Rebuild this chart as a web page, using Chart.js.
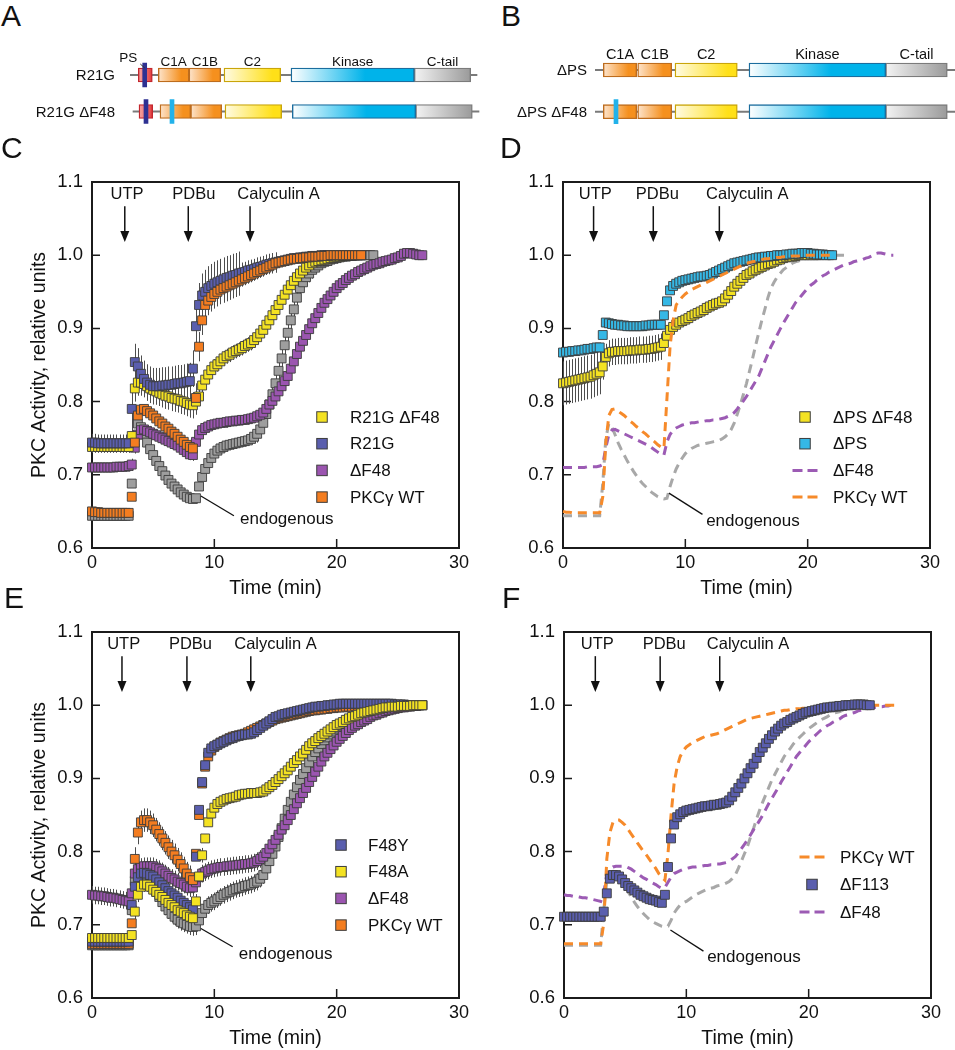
<!DOCTYPE html>
<html>
<head>
<meta charset="utf-8">
<title>PKC activity time courses</title>
<script src="https://cdn.jsdelivr.net/npm/chart.js@4.4.1/dist/chart.umd.min.js"></script>
<style>
  body { margin: 0; background: #fff; }
  #page { position: relative; width: 955px; height: 1050px; overflow: hidden; font-family: "Liberation Sans", Arial, sans-serif; }
  canvas { position: absolute; }
  .letter { position: absolute; font-size: 30px; line-height: 30px; color: #111; z-index: 2; }
</style>
</head>
<body>
<div id="page">
  <canvas id="mapA" width="480" height="100" style="left:0;top:40px"></canvas>
  <canvas id="mapB" width="475" height="100" style="left:480px;top:40px"></canvas>
  <canvas id="panelC" width="480" height="450" style="left:0;top:150px"></canvas>
  <canvas id="panelD" width="480" height="450" style="left:471px;top:150px"></canvas>
  <canvas id="panelE" width="480" height="450" style="left:0;top:600px"></canvas>
  <canvas id="panelF" width="480" height="450" style="left:472px;top:600px"></canvas>
  <div class="letter" style="left:1px;top:1px">A</div>
  <div class="letter" style="left:501px;top:1px">B</div>
  <div class="letter" style="left:1px;top:133px">C</div>
  <div class="letter" style="left:500px;top:133px">D</div>
  <div class="letter" style="left:4px;top:583px">E</div>
  <div class="letter" style="left:502px;top:583px">F</div>
</div>
<script>
// readings every 15 s, first one at t = 0
const TIME_STEP = 0.25;
const STIM_NAMES = ['UTP', 'PDBu', 'Calyculin A'];

// ---- panel C ----
const C_WT = [
  0.650, 0.649, 0.649, 0.648,
  0.648, 0.648, 0.648, 0.648,
  0.648, 0.648, 0.648, 0.648,
  0.648, 0.670, 0.744, 0.781,
  0.789, 0.790, 0.787, 0.784,
  0.781, 0.777, 0.773, 0.770,
  0.766, 0.763, 0.759, 0.756,
  0.752, 0.748, 0.745, 0.741,
  0.738, 0.736, 0.805, 0.875,
  0.911, 0.932, 0.938, 0.943,
  0.947, 0.950, 0.953, 0.955,
  0.957, 0.959, 0.961, 0.963,
  0.965, 0.967, 0.969, 0.971,
  0.973, 0.975, 0.977, 0.979,
  0.981, 0.983, 0.985, 0.987,
  0.989, 0.990, 0.991, 0.992,
  0.993, 0.994, 0.995, 0.995,
  0.996, 0.996, 0.997, 0.997,
  0.998, 0.998, 0.998, 0.999,
  0.999, 0.999, 1.000, 1.000,
  1.000, 1.000, 1.000, 1.000,
  1.000, 1.000, 1.000, 1.000,
  1.000
];
const C_R21G = [
  0.744, 0.744, 0.743, 0.743,
  0.743, 0.743, 0.743, 0.743,
  0.743, 0.743, 0.743, 0.743,
  0.743, 0.790, 0.854, 0.848,
  0.838, 0.831, 0.826, 0.823,
  0.821, 0.821, 0.821, 0.822,
  0.822, 0.823, 0.823, 0.824,
  0.825, 0.825, 0.826, 0.827,
  0.828, 0.845, 0.903, 0.932,
  0.945, 0.950, 0.955, 0.958,
  0.961, 0.963, 0.965, 0.967,
  0.969, 0.970, 0.972, 0.973,
  0.975, 0.976, 0.977, 0.979,
  0.980, 0.981, 0.983, 0.984,
  0.985, 0.987, 0.988, 0.989,
  0.990, 0.991, 0.992, 0.993,
  0.994, 0.995, 0.996, 0.996,
  0.997, 0.997, 0.998, 0.998,
  0.999, 0.999, 0.999, 1.000,
  1.000, 1.000, 1.000, 1.000,
  1.000, 1.000, 1.000, 1.000,
  1.000, 1.000, 1.000, 1.000,
  1.000
];
const C_R21G_DF48 = [
  0.738, 0.738, 0.738, 0.738,
  0.738, 0.738, 0.738, 0.738,
  0.738, 0.738, 0.738, 0.738,
  0.738, 0.753, 0.818, 0.826,
  0.826, 0.824, 0.821, 0.818,
  0.816, 0.814, 0.812, 0.810,
  0.808, 0.807, 0.805, 0.804,
  0.803, 0.801, 0.800, 0.798,
  0.796, 0.795, 0.800, 0.807,
  0.822, 0.830, 0.837, 0.843,
  0.848, 0.851, 0.855, 0.859,
  0.862, 0.864, 0.867, 0.869,
  0.871, 0.873, 0.876, 0.878,
  0.880, 0.884, 0.888, 0.893,
  0.898, 0.905, 0.911, 0.918,
  0.925, 0.932, 0.939, 0.946,
  0.953, 0.959, 0.965, 0.970,
  0.975, 0.979, 0.983, 0.986,
  0.989, 0.991, 0.992, 0.993,
  0.994, 0.995, 0.996, 0.997,
  0.998, 0.998, 0.999, 0.999,
  1.000, 1.000, 1.000, 1.000,
  1.000
];
const C_DF48 = [
  0.710, 0.710, 0.710, 0.710,
  0.710, 0.710, 0.710, 0.710,
  0.711, 0.711, 0.711, 0.711,
  0.712, 0.714, 0.737, 0.755,
  0.761, 0.762, 0.760, 0.758,
  0.756, 0.754, 0.752, 0.750,
  0.748, 0.746, 0.744, 0.742,
  0.740, 0.737, 0.734, 0.731,
  0.728, 0.727, 0.745, 0.755,
  0.761, 0.764, 0.766, 0.768,
  0.769, 0.770, 0.771, 0.771,
  0.772, 0.773, 0.773, 0.774,
  0.774, 0.775, 0.775, 0.776,
  0.777, 0.778, 0.780, 0.782,
  0.785, 0.790, 0.796, 0.801,
  0.807, 0.814, 0.821, 0.828,
  0.835, 0.845, 0.855, 0.865,
  0.875, 0.883, 0.891, 0.899,
  0.907, 0.914, 0.921, 0.928,
  0.935, 0.940, 0.945, 0.950,
  0.955, 0.959, 0.962, 0.966,
  0.969, 0.972, 0.974, 0.977,
  0.979, 0.981, 0.983, 0.985,
  0.987, 0.988, 0.989, 0.991,
  0.992, 0.993, 0.994, 0.996,
  0.997, 0.999, 1.002, 1.003,
  1.003, 1.002, 1.001, 1.000,
  1.000
];
const C_ENDO = [
  0.644, 0.644, 0.644, 0.644,
  0.644, 0.644, 0.644, 0.644,
  0.644, 0.644, 0.644, 0.644,
  0.644, 0.688, 0.750, 0.770,
  0.765, 0.755, 0.744, 0.735,
  0.727, 0.719, 0.712, 0.705,
  0.699, 0.693, 0.688, 0.684,
  0.680, 0.676, 0.673, 0.670,
  0.668, 0.667, 0.668, 0.684,
  0.697, 0.708, 0.716, 0.723,
  0.729, 0.733, 0.736, 0.738,
  0.740, 0.741, 0.742, 0.743,
  0.744, 0.745, 0.746, 0.747,
  0.749, 0.752, 0.756, 0.762,
  0.771, 0.783, 0.796, 0.810,
  0.825, 0.842, 0.859, 0.877,
  0.894, 0.911, 0.926, 0.942,
  0.955, 0.963, 0.970, 0.975,
  0.980, 0.983, 0.986, 0.989,
  0.991, 0.992, 0.994, 0.995,
  0.996, 0.997, 0.998, 0.998,
  0.999, 0.999, 1.000, 1.000,
  1.000, 1.000, 1.000, 1.000,
  1.000
];

// ---- panel D ----
const D_DPS = [
  0.867, 0.868, 0.868, 0.869,
  0.869, 0.870, 0.870, 0.871,
  0.872, 0.872, 0.873, 0.874,
  0.874, 0.891, 0.908, 0.907,
  0.906, 0.905, 0.905, 0.904,
  0.904, 0.903, 0.903, 0.903,
  0.903, 0.903, 0.903, 0.904,
  0.904, 0.905, 0.905, 0.905,
  0.905, 0.918, 0.937, 0.952,
  0.958, 0.961, 0.963, 0.965,
  0.966, 0.967, 0.968, 0.969,
  0.970, 0.971, 0.971, 0.972,
  0.973, 0.975, 0.977, 0.979,
  0.981, 0.983, 0.985, 0.987,
  0.989, 0.990, 0.991, 0.992,
  0.993, 0.994, 0.995, 0.996,
  0.997, 0.997, 0.998, 0.998,
  0.999, 0.999, 1.000, 1.000,
  1.000, 1.001, 1.001, 1.002,
  1.002, 1.002, 1.003, 1.003,
  1.003, 1.002, 1.002, 1.001,
  1.001, 1.001, 1.000, 1.000,
  1.000
];
const D_DPS_DF48 = [
  0.825, 0.826, 0.827, 0.828,
  0.829, 0.830, 0.831, 0.832,
  0.833, 0.834, 0.836, 0.838,
  0.840, 0.848, 0.861, 0.866,
  0.868, 0.868, 0.869, 0.869,
  0.869, 0.869, 0.870, 0.870,
  0.870, 0.871, 0.871, 0.871,
  0.872, 0.872, 0.873, 0.874,
  0.875, 0.880, 0.890, 0.898,
  0.902, 0.905, 0.908, 0.910,
  0.912, 0.914, 0.917, 0.919,
  0.921, 0.923, 0.925, 0.928,
  0.930, 0.932, 0.934, 0.935,
  0.937, 0.941, 0.946, 0.951,
  0.957, 0.961, 0.965, 0.969,
  0.973, 0.975, 0.978, 0.980,
  0.982, 0.984, 0.986, 0.988,
  0.989, 0.991, 0.993, 0.994,
  0.996, 0.997, 0.998, 0.998,
  0.999, 1.000, 1.000, 1.000,
  1.000, 1.000, 1.000, 1.000,
  1.000
];

// ---- panel E ----
const E_WT = [
  0.674, 0.674, 0.674, 0.674,
  0.674, 0.674, 0.674, 0.674,
  0.674, 0.674, 0.674, 0.674,
  0.674, 0.702, 0.790, 0.826,
  0.840, 0.843, 0.843, 0.840,
  0.836, 0.830, 0.824, 0.818,
  0.812, 0.806, 0.800, 0.795,
  0.789, 0.783, 0.777, 0.770,
  0.765, 0.761, 0.797, 0.850,
  0.893, 0.916, 0.930, 0.938,
  0.943, 0.946, 0.949, 0.951,
  0.953, 0.955, 0.957, 0.958,
  0.959, 0.960, 0.961, 0.963,
  0.965, 0.967, 0.969, 0.971,
  0.973, 0.975, 0.977, 0.979,
  0.981, 0.982, 0.983, 0.984,
  0.985, 0.986, 0.987, 0.988,
  0.989, 0.990, 0.991, 0.992,
  0.993, 0.993, 0.994, 0.994,
  0.995, 0.995, 0.996, 0.996,
  0.997, 0.997, 0.997, 0.998,
  0.998, 0.998, 0.999, 0.999,
  0.999, 0.999, 1.000, 1.000,
  1.000, 1.000, 1.000, 1.000,
  1.000, 1.000, 1.000, 1.000,
  1.000, 1.000, 1.000, 1.000,
  1.000, 1.000, 1.000, 1.000,
  1.000
];
const E_F48Y = [
  0.677, 0.677, 0.677, 0.677,
  0.677, 0.677, 0.677, 0.677,
  0.677, 0.677, 0.677, 0.677,
  0.677, 0.727, 0.752, 0.765,
  0.770, 0.771, 0.770, 0.768,
  0.766, 0.762, 0.758, 0.754,
  0.750, 0.746, 0.743, 0.740,
  0.737, 0.733, 0.730, 0.727,
  0.724, 0.721, 0.793, 0.857,
  0.895, 0.918, 0.935, 0.941,
  0.944, 0.946, 0.948, 0.950,
  0.952, 0.954, 0.955, 0.957,
  0.958, 0.959, 0.960, 0.960,
  0.961, 0.963, 0.966, 0.969,
  0.972, 0.975, 0.978, 0.981,
  0.984, 0.985, 0.987, 0.988,
  0.989, 0.990, 0.991, 0.992,
  0.993, 0.994, 0.995, 0.996,
  0.997, 0.998, 0.998, 0.999,
  0.999, 1.000, 1.000, 1.001,
  1.001, 1.002, 1.002, 1.002,
  1.002, 1.002, 1.002, 1.002,
  1.002, 1.002, 1.002, 1.002,
  1.002, 1.002, 1.002, 1.002,
  1.002, 1.002, 1.002, 1.001,
  1.001, 1.001, 1.001, 1.000,
  1.000, 1.000, 1.000, 1.000,
  1.000
];
const E_F48A = [
  0.682, 0.682, 0.682, 0.682,
  0.682, 0.682, 0.682, 0.682,
  0.682, 0.682, 0.682, 0.682,
  0.682, 0.686, 0.718, 0.741,
  0.752, 0.755, 0.755, 0.752,
  0.748, 0.745, 0.741, 0.738,
  0.734, 0.730, 0.727, 0.724,
  0.720, 0.718, 0.716, 0.713,
  0.711, 0.709, 0.732, 0.766,
  0.795, 0.818, 0.840, 0.852,
  0.860, 0.865, 0.868, 0.870,
  0.872, 0.873, 0.874, 0.875,
  0.877, 0.878, 0.879, 0.879,
  0.880, 0.880, 0.880, 0.881,
  0.882, 0.885, 0.888, 0.891,
  0.895, 0.899, 0.903, 0.907,
  0.911, 0.916, 0.921, 0.925,
  0.930, 0.934, 0.939, 0.944,
  0.948, 0.951, 0.955, 0.958,
  0.961, 0.964, 0.967, 0.970,
  0.973, 0.975, 0.977, 0.980,
  0.982, 0.984, 0.985, 0.987,
  0.989, 0.990, 0.991, 0.992,
  0.993, 0.994, 0.995, 0.996,
  0.997, 0.997, 0.998, 0.998,
  0.998, 0.999, 0.999, 0.999,
  0.999, 1.000, 1.000, 1.000,
  1.000
];
const E_DF48 = [
  0.741, 0.740, 0.740, 0.739,
  0.739, 0.738, 0.737, 0.737,
  0.736, 0.735, 0.734, 0.733,
  0.732, 0.743, 0.770, 0.776,
  0.779, 0.780, 0.780, 0.780,
  0.780, 0.778, 0.776, 0.773,
  0.770, 0.767, 0.764, 0.762,
  0.759, 0.757, 0.755, 0.752,
  0.750, 0.751, 0.758, 0.765,
  0.770, 0.772, 0.774, 0.776,
  0.777, 0.778, 0.779, 0.779,
  0.780, 0.780, 0.781, 0.781,
  0.782, 0.782, 0.783, 0.783,
  0.784, 0.785, 0.787, 0.790,
  0.793, 0.798, 0.804, 0.810,
  0.816, 0.823, 0.830, 0.836,
  0.843, 0.850, 0.858, 0.866,
  0.873, 0.880, 0.887, 0.895,
  0.902, 0.909, 0.916, 0.923,
  0.930, 0.935, 0.940, 0.945,
  0.950, 0.954, 0.958, 0.962,
  0.966, 0.969, 0.972, 0.974,
  0.977, 0.979, 0.981, 0.984,
  0.986, 0.987, 0.989, 0.990,
  0.992, 0.993, 0.994, 0.995,
  0.996, 0.997, 0.997, 0.998,
  0.998, 0.999, 0.999, 1.000,
  1.000
];
const E_ENDO = [
  0.672, 0.672, 0.672, 0.672,
  0.672, 0.672, 0.672, 0.672,
  0.672, 0.672, 0.672, 0.672,
  0.672, 0.720, 0.760, 0.772,
  0.773, 0.769, 0.763, 0.757,
  0.752, 0.745, 0.738, 0.731,
  0.725, 0.720, 0.715, 0.711,
  0.707, 0.704, 0.702, 0.700,
  0.698, 0.697, 0.698, 0.706,
  0.716, 0.722, 0.727, 0.730,
  0.732, 0.735, 0.738, 0.741,
  0.743, 0.745, 0.747, 0.749,
  0.750, 0.751, 0.753, 0.754,
  0.755, 0.757, 0.759, 0.763,
  0.768, 0.777, 0.787, 0.797,
  0.807, 0.820, 0.832, 0.845,
  0.857, 0.868, 0.878, 0.888,
  0.898, 0.906, 0.914, 0.922,
  0.930, 0.936, 0.941, 0.947,
  0.952, 0.956, 0.960, 0.964,
  0.968, 0.971, 0.974, 0.977,
  0.980, 0.982, 0.984, 0.987,
  0.989, 0.990, 0.991, 0.993,
  0.994, 0.995, 0.996, 0.997,
  0.998, 0.998, 0.999, 1.000,
  1.000
];

// ---- panel F ----
const F_DF113 = [
  0.711, 0.711, 0.711, 0.711,
  0.711, 0.711, 0.711, 0.711,
  0.711, 0.711, 0.711, 0.711,
  0.711, 0.718, 0.743, 0.763,
  0.768, 0.768, 0.766, 0.762,
  0.757, 0.753, 0.750, 0.747,
  0.744, 0.741, 0.739, 0.737,
  0.735, 0.734, 0.733, 0.731,
  0.730, 0.741, 0.779, 0.818,
  0.837, 0.847, 0.851, 0.854,
  0.856, 0.857, 0.858, 0.859,
  0.860, 0.861, 0.862, 0.862,
  0.863, 0.864, 0.864, 0.865,
  0.866, 0.867, 0.870, 0.875,
  0.881, 0.887, 0.893, 0.900,
  0.907, 0.914, 0.920, 0.928,
  0.936, 0.942, 0.948, 0.954,
  0.959, 0.964, 0.968, 0.972,
  0.975, 0.977, 0.980, 0.982,
  0.984, 0.986, 0.988, 0.990,
  0.991, 0.992, 0.993, 0.994,
  0.995, 0.996, 0.997, 0.997,
  0.998, 0.998, 0.999, 0.999,
  1.000, 1.000, 1.000, 1.001,
  1.001, 1.001, 1.001, 1.000,
  1.000
];

// error bars: [from t, to t, +/- value]
const C_R21G_ERR = [[0, 3, 0.012], [3.25, 8.25, 0.025], [8.5, 12, 0.03], [12.25, 15, 0.014]];
const C_R21G_DF48_ERR = [[0, 3, 0.008], [3.25, 8.5, 0.018], [8.75, 14, 0.01]];
const C_WT_ERR = [[8.5, 12, 0.02], [12.25, 15, 0.01]];
const C_DF48_ERR = [[3.25, 9, 0.008]];
const C_ENDO_ERR = [[13.5, 18, 0.012]];
const D_DPS_DF48_ERR = [[0, 3, 0.03], [3.25, 8, 0.018], [8.25, 10, 0.008]];
const E_DF48_ERR = [[0, 16, 0.012]];
const E_WT_ERR = [[3.5, 8, 0.016]];
const E_ENDO_ERR = [[3.5, 18, 0.012]];
const E_F48A_ERR = [[3.5, 9, 0.01]];

// ---- domain maps ----
const A_ROWS = ['R21G', 'R21G ΔF48'];
const A_BACKBONE = [[0, 347], [3, 349]];
const A_PS = [[8.3, 22.3], [9, 22.7]];
const A_C1A = [[28.3, 59], [30, 60.7]];
const A_C1B = [[59, 90.7], [60.7, 91.7]];
const A_C2 = [[94, 150.7], [95, 151.7]];
const A_KINASE = [[161, 284.3], [162.3, 285.7]];
const A_CTAIL = [[284.3, 340.7], [285.7, 342.3]];
const A_R21G_MARK = [[12.7, 16.7], [14, 18]];
const A_F48_MARK = [null, [40, 44]];

const B_ROWS = ['ΔPS', 'ΔPS ΔF48'];
const B_BACKBONE = [[0, 362], [0, 362]];
const B_C1A = [[8.3, 41.7], [8.3, 41.7]];
const B_C1B = [[42.7, 76.7], [42.7, 76.7]];
const B_C2 = [[80, 142.3], [80, 142.3]];
const B_KINASE = [[154, 290.7], [154, 290.7]];
const B_CTAIL = [[290.7, 352.3], [290.7, 352.3]];
const B_F48_MARK = [null, [19, 23]];

const INK = '#111';
const FAMILY = '"Liberation Sans", Arial, Helvetica, sans-serif';
const font = (size) => size + 'px ' + FAMILY;
Chart.defaults.font.family = FAMILY;
Chart.defaults.color = INK;

const COLORS = {
  yellow: '#f4e222', blue: '#5a5eae', purple: '#9b55b0', orange: '#f47d20',
  grey: '#9e9e9e', cyan: '#35b8e6',
  dPurple: '#9c5bb4', dOrange: '#f68a2a', dGrey: '#a8a8a8'
};

const points = (vals) => vals.map((v, i) => ({ x: i * TIME_STEP, y: v }));

function squares(label, vals, color, errors) {
  return {
    label, data: points(vals), showLine: false, pointStyle: 'rect',
    pointRadius: 6.3, pointBackgroundColor: color, pointBorderColor: '#3c3c3c',
    pointBorderWidth: 0.9, backgroundColor: color, borderColor: color,
    clip: false, errors: errors || null
  };
}

function dashed(label, vals, color) {
  return {
    label, data: points(vals), pointRadius: 0, borderColor: color,
    backgroundColor: color, borderWidth: 3, borderDash: [9, 6], tension: 0,
    fill: false, clip: false
  };
}

const framePlugin = {
  id: 'frame',
  beforeDatasetsDraw(chart) {
    const { ctx, chartArea: a, scales: { x, y } } = chart;
    ctx.save();
    ctx.strokeStyle = '#1b1b1b';
    ctx.lineWidth = 2;
    ctx.strokeRect(a.left, a.top, a.right - a.left, a.bottom - a.top);
    ctx.lineWidth = 1.5;
    ctx.beginPath();
    x.ticks.forEach(t => {
      if (t.value > x.min && t.value < x.max) {
        const px = x.getPixelForValue(t.value);
        ctx.moveTo(px, a.bottom); ctx.lineTo(px, a.bottom - 9);
      }
    });
    y.ticks.forEach(t => {
      if (t.value > y.min + 1e-6 && t.value < y.max - 1e-6) {
        const py = y.getPixelForValue(t.value);
        ctx.moveTo(a.left, py); ctx.lineTo(a.left + 8, py);
      }
    });
    ctx.stroke();

    // error bars go under every marker
    ctx.strokeStyle = '#4d4d4d';
    ctx.lineWidth = 1;
    ctx.beginPath();
    chart.data.datasets.forEach(ds => {
      if (!ds.errors) return;
      ds.data.forEach(p => {
        const seg = ds.errors.find(s => p.x >= s[0] - 1e-9 && p.x <= s[1] + 1e-9);
        if (!seg) return;
        const px = Math.round(x.getPixelForValue(p.x)) + 0.5;
        ctx.moveTo(px, y.getPixelForValue(p.y - seg[2]));
        ctx.lineTo(px, y.getPixelForValue(p.y + seg[2]));
      });
    });
    ctx.stroke();
    ctx.restore();
  }
};

function annotate(spec) {
  return {
    id: 'annotate',
    afterDatasetsDraw(chart) {
      const { ctx, chartArea: a, scales: { x, y } } = chart;
      ctx.save();
      ctx.fillStyle = INK;
      ctx.strokeStyle = INK;

      // stimulus arrows
      ctx.font = font(16.5);
      ctx.textAlign = 'center';
      ctx.textBaseline = 'middle';
      STIM_NAMES.forEach((name, i) => {
        const ax = x.getPixelForValue(spec.stimAt[i]);
        const top = y.getPixelForValue(1.067), tip = y.getPixelForValue(1.018);
        ctx.lineWidth = 1.5;
        ctx.beginPath(); ctx.moveTo(ax, top); ctx.lineTo(ax, tip - 9); ctx.stroke();
        ctx.beginPath();
        ctx.moveTo(ax - 4.5, tip - 11); ctx.lineTo(ax + 4.5, tip - 11); ctx.lineTo(ax, tip);
        ctx.closePath(); ctx.fill();
        ctx.fillText(name, x.getPixelForValue(spec.labelAt[i]), y.getPixelForValue(1.083));
      });

      // endogenous call-out
      const n = spec.endo;
      ctx.lineWidth = 1.3;
      ctx.beginPath();
      ctx.moveTo(x.getPixelForValue(n.from[0]), y.getPixelForValue(n.from[1]));
      ctx.lineTo(x.getPixelForValue(n.to[0]), y.getPixelForValue(n.to[1]));
      ctx.stroke();
      ctx.font = font(17);
      ctx.textAlign = 'left';
      ctx.fillText('endogenous', x.getPixelForValue(n.text[0]), y.getPixelForValue(n.text[1]));

      // legend inside the frame
      const lg = spec.legend;
      lg.items.forEach((label, i) => {
        const ds = chart.data.datasets.find(d => d.label === label);
        const cx = a.left + lg.dx, cy = a.top + lg.dy + i * lg.gap;
        if (ds.showLine === false) {
          ctx.fillStyle = ds.pointBackgroundColor;
          ctx.fillRect(cx - 5.25, cy - 5.25, 10.5, 10.5);
          ctx.lineWidth = 1;
          ctx.strokeStyle = '#3c3c3c';
          ctx.strokeRect(cx - 5.25, cy - 5.25, 10.5, 10.5);
        } else {
          ctx.strokeStyle = ds.borderColor;
          ctx.lineWidth = 3;
          ctx.setLineDash([10, 5]);
          ctx.beginPath(); ctx.moveTo(cx - 12.5, cy); ctx.lineTo(cx + 12.5, cy); ctx.stroke();
          ctx.setLineDash([]);
        }
        ctx.fillStyle = INK;
        ctx.fillText(label, a.left + lg.tx, cy + 1);
      });
      ctx.restore();
    }
  };
}

function timeCourse(canvasId, sets, spec) {
  return new Chart(document.getElementById(canvasId), {
    type: 'line',
    data: { datasets: sets },
    options: {
      responsive: false,
      animation: false,
      events: [],
      layout: { padding: { top: 32, right: 21, bottom: 0, left: 0 } },
      plugins: { legend: { display: false }, tooltip: { enabled: false } },
      scales: {
        x: {
          type: 'linear', min: 0, max: 30,
          ticks: { stepSize: 10, padding: 4.5, color: INK, font: { size: 18 } },
          grid: { display: false, drawTicks: false },
          border: { display: false },
          title: { display: true, text: 'Time (min)', color: INK, font: { size: 19.5 }, padding: { top: 0, bottom: 0 } },
          afterFit: (s) => { s.height = 52; }
        },
        y: {
          type: 'linear', min: 0.6, max: 1.1,
          ticks: { stepSize: 0.1, padding: 9, color: INK, font: { size: 18.5 }, callback: (v) => v.toFixed(1) },
          grid: { display: false, drawTicks: false },
          border: { display: false },
          title: { display: !!spec.yTitle, text: 'PKC Activity, relative units', color: INK, font: { size: 19.5 }, padding: { top: 28, bottom: 0 } },
          afterFit: (s) => { s.width = 92; }
        }
      }
    },
    plugins: [framePlugin, annotate(spec)]
  });
}

// panel C
timeCourse('panelC', [
  squares('PKCγ WT', C_WT, COLORS.orange, C_WT_ERR),
  squares('R21G', C_R21G, COLORS.blue, C_R21G_ERR),
  squares('R21G ΔF48', C_R21G_DF48, COLORS.yellow, C_R21G_DF48_ERR),
  squares('ΔF48', C_DF48, COLORS.purple, C_DF48_ERR),
  squares('endogenous', C_ENDO, COLORS.grey, C_ENDO_ERR)
], {
  yTitle: true,
  stimAt: [2.68, 7.87, 12.92], labelAt: [2.87, 8.33, 15.25],
  endo: { from: [8.9, 0.671], to: [11.6, 0.644], text: [12.1, 0.639] },
  legend: { items: ['R21G ΔF48', 'R21G', 'ΔF48', 'PKCγ WT'], dx: 230, tx: 258, dy: 235, gap: 26.7 }
});

// panel D
timeCourse('panelD', [
  dashed('PKCγ WT', C_WT, COLORS.dOrange),
  squares('ΔPS', D_DPS, COLORS.cyan),
  squares('ΔPS ΔF48', D_DPS_DF48, COLORS.yellow, D_DPS_DF48_ERR),
  dashed('ΔF48', C_DF48, COLORS.dPurple),
  dashed('endogenous', C_ENDO, COLORS.dGrey)
], {
  yTitle: false,
  stimAt: [2.5, 7.38, 12.78], labelAt: [2.64, 7.71, 15.07],
  endo: { from: [8.66, 0.675], to: [11.4, 0.646], text: [11.7, 0.637] },
  legend: { items: ['ΔPS ΔF48', 'ΔPS', 'ΔF48', 'PKCγ WT'], dx: 242, tx: 270, dy: 235, gap: 26.7 }
});

// panel E
timeCourse('panelE', [
  squares('F48A', E_F48A, COLORS.yellow, E_F48A_ERR),
  squares('F48Y', E_F48Y, COLORS.blue),
  squares('PKCγ WT', E_WT, COLORS.orange, E_WT_ERR),
  squares('ΔF48', E_DF48, COLORS.purple, E_DF48_ERR),
  squares('endogenous', E_ENDO, COLORS.grey, E_ENDO_ERR)
], {
  yTitle: true,
  stimAt: [2.45, 7.76, 12.98], labelAt: [2.59, 8.05, 15.0],
  endo: { from: [8.9, 0.695], to: [11.5, 0.670], text: [12.0, 0.659] },
  legend: { items: ['F48Y', 'F48A', 'ΔF48', 'PKCγ WT'], dx: 249, tx: 276, dy: 213, gap: 26.7 }
});

// panel F
timeCourse('panelF', [
  squares('ΔF113', F_DF113, COLORS.blue),
  dashed('PKCγ WT', E_WT, COLORS.dOrange),
  dashed('ΔF48', E_DF48, COLORS.dPurple),
  dashed('endogenous', E_ENDO, COLORS.dGrey)
], {
  yTitle: false,
  stimAt: [2.56, 7.86, 12.73], labelAt: [2.72, 8.19, 15.05],
  endo: { from: [8.7, 0.693], to: [11.4, 0.664], text: [11.7, 0.655] },
  legend: { items: ['PKCγ WT', 'ΔF113', 'ΔF48'], dx: 248, tx: 276, dy: 225, gap: 27.5 }
});

// ---- domain maps (A, B) ----
function shade(light, dark, stop) {
  return (c) => {
    const chart = c.chart;
    if (!chart.chartArea || !c.raw) return dark;
    const xs = chart.scales.x;
    const g = chart.ctx.createLinearGradient(xs.getPixelForValue(c.raw[0]), 0, xs.getPixelForValue(c.raw[1]), 0);
    g.addColorStop(0, light);
    g.addColorStop(stop, dark);
    g.addColorStop(1, dark);
    return g;
  };
}

function domain(title, rows, light, dark, edge, stop) {
  return {
    title, data: rows, grouped: false, barThickness: 14, borderWidth: 1.4,
    borderColor: edge, borderSkipped: false, backgroundColor: shade(light, dark, stop), order: 2
  };
}
const backbone = (rows) => ({ data: rows, grouped: false, barThickness: 1.4, borderWidth: 0, backgroundColor: '#7a7a7a', order: 3 });
const marker = (rows, color) => ({ data: rows, grouped: false, barThickness: 24, borderWidth: 0, backgroundColor: color, order: 1 });

function domainLabels(spec) {
  return {
    id: 'domainLabels',
    afterDatasetsDraw(chart) {
      const { ctx, chartArea: a, scales: { x, y } } = chart;
      const yc = y.getPixelForValue(0);
      ctx.save();
      ctx.fillStyle = INK;
      ctx.strokeStyle = '#333';
      ctx.textBaseline = 'middle';

      // row names, right-aligned against the backbone
      ctx.font = font(15);
      ctx.textAlign = 'right';
      chart.data.labels.forEach((name, i) => {
        ctx.fillText(name, a.left - spec.labelPad, y.getPixelForValue(i) + 1);
      });

      ctx.font = font(spec.labelSize);
      chart.data.datasets.forEach(ds => {
        if (!ds.title) return;
        const r = ds.data[0];
        if (ds.title === 'PS') {
          const left = x.getPixelForValue(r[0]);
          ctx.textAlign = 'right';
          ctx.fillText('PS', left - 1, yc - 17);
          ctx.lineWidth = 1;
          ctx.beginPath(); ctx.moveTo(left + 2, yc - 11); ctx.lineTo(left + 6.5, yc - 7); ctx.stroke();
        } else {
          ctx.textAlign = 'center';
          ctx.fillText(ds.title, x.getPixelForValue((r[0] + r[1]) / 2), yc - spec.labelLift);
        }
      });
      ctx.restore();
    }
  };
}

function domainMap(canvasId, rows, sets, spec) {
  return new Chart(document.getElementById(canvasId), {
    type: 'bar',
    data: { labels: rows, datasets: sets },
    options: {
      indexAxis: 'y',
      responsive: false,
      animation: false,
      events: [],
      layout: { padding: spec.padding },
      plugins: { legend: { display: false }, tooltip: { enabled: false } },
      scales: {
        x: { type: 'linear', min: 0, max: spec.max, display: false },
        y: {
          type: 'category',
          ticks: { display: false },
          grid: { display: false, drawTicks: false },
          border: { display: false },
          afterFit: (s) => { s.width = spec.axisWidth; }
        }
      }
    },
    plugins: [domainLabels(spec)]
  });
}

domainMap('mapA', A_ROWS, [
  marker(A_R21G_MARK, '#2e3192'),
  marker(A_F48_MARK, '#22b2ea'),
  domain('PS', A_PS, '#f7aaa6', '#e2383a', '#c3262d', 1),
  domain('C1A', A_C1A, '#fde4cc', '#f5901e', '#bd6c1d', 0.75),
  domain('C1B', A_C1B, '#fde4cc', '#f5901e', '#bd6c1d', 0.75),
  domain('C2', A_C2, '#fffbe4', '#ffe018', '#c9a50a', 0.85),
  domain('Kinase', A_KINASE, '#ffffff', '#00b3ea', '#1b6d9e', 0.6),
  domain('C-tail', A_CTAIL, '#f3f3f3', '#9a9a9a', '#7b7b7b', 1),
  backbone(A_BACKBONE)
], { max: 350, axisWidth: 130, labelPad: 15, labelSize: 13.5, labelLift: 13,
     padding: { top: 16.75, bottom: 10.25, left: 0, right: 0 } });

domainMap('mapB', B_ROWS, [
  marker(B_F48_MARK, '#22b2ea'),
  domain('C1A', B_C1A, '#fde4cc', '#f5901e', '#bd6c1d', 0.75),
  domain('C1B', B_C1B, '#fde4cc', '#f5901e', '#bd6c1d', 0.75),
  domain('C2', B_C2, '#fffbe4', '#ffe018', '#c9a50a', 0.85),
  domain('Kinase', B_KINASE, '#ffffff', '#00b3ea', '#1b6d9e', 0.6),
  domain('C-tail', B_CTAIL, '#f3f3f3', '#9a9a9a', '#7b7b7b', 1),
  backbone(B_BACKBONE)
], { max: 360, axisWidth: 115, labelPad: 8, labelSize: 14.5, labelLift: 15,
     padding: { top: 9.15, bottom: 7.45, left: 0, right: 0 } });
</script>
</body>
</html>
